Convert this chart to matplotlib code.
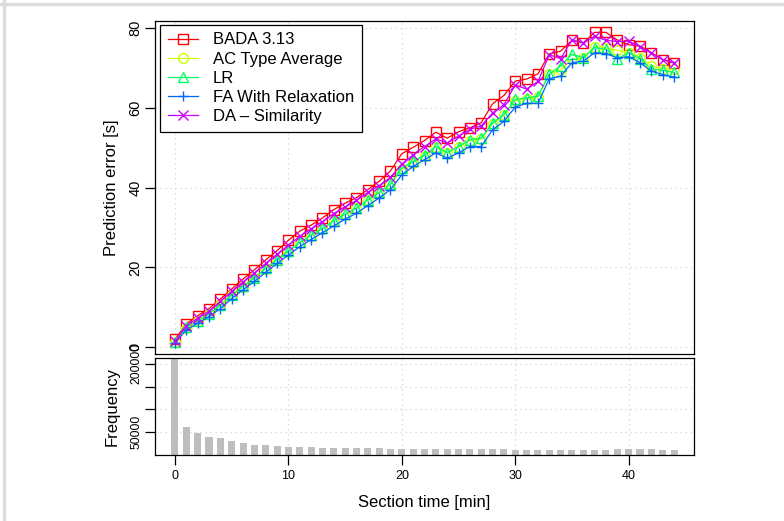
import matplotlib
matplotlib.use("Agg")
import matplotlib.pyplot as plt
from matplotlib.lines import Line2D
import numpy as np

plt.rcParams['font.family'] = ['Liberation Sans', 'DejaVu Sans']

# Section time [min]
minutes = list(range(45))

bada = [2.0, 5.9, 7.9, 9.7, 12.1, 14.6, 17.1, 19.4, 21.9, 24.2, 26.8, 29.1, 30.6, 32.4, 34.5, 36.1,
        37.5, 39.5, 41.6, 44.2, 48.5, 50.1, 51.8, 53.9, 52.4, 54.0, 55.0, 56.3, 61.0, 63.1, 66.7, 67.2,
        68.5, 73.5, 74.2, 76.9, 76.3, 78.9, 78.9, 77.0, 75.8, 75.5, 73.8, 72.1, 71.2]
ac_avg = [1.3, 4.9, 6.6, 8.3, 10.5, 13.0, 15.2, 17.3, 19.7, 21.8, 24.0, 26.2, 28.0, 29.7, 31.6, 33.3,
          34.8, 36.8, 38.7, 40.8, 44.6, 46.3, 48.0, 50.2, 48.7, 50.2, 51.8, 52.2, 56.0, 58.1, 61.8, 62.3,
          62.7, 68.5, 69.5, 72.2, 72.4, 75.3, 75.0, 74.4, 73.8, 72.6, 70.6, 69.8, 69.7]
lr = [1.3, 5.0, 6.7, 8.4, 10.6, 13.1, 15.3, 17.4, 19.8, 21.9, 24.1, 26.3, 28.1, 29.8, 31.7, 33.4,
      34.9, 36.9, 38.8, 40.9, 44.9, 46.6, 48.2, 50.3, 48.8, 50.3, 52.0, 52.4, 56.2, 58.3, 62.1, 62.5,
      62.9, 68.4, 70.5, 73.4, 72.6, 75.1, 74.7, 72.3, 73.8, 72.3, 69.7, 69.4, 68.9]
fa_relax = [1.0, 4.4, 6.0, 7.7, 9.7, 12.2, 14.4, 16.5, 18.8, 21.0, 23.1, 25.2, 27.0, 28.7, 30.4, 32.1,
            33.6, 35.5, 37.4, 39.5, 43.2, 45.3, 47.0, 48.7, 47.4, 48.7, 50.3, 50.3, 54.5, 56.6, 60.2, 61.1,
            61.1, 67.3, 67.9, 71.3, 71.7, 73.8, 73.6, 72.5, 72.8, 71.3, 69.2, 68.3, 67.7]
da_sim = [1.5, 5.4, 7.3, 9.1, 11.5, 14.0, 16.4, 18.6, 21.0, 23.3, 25.6, 27.8, 29.7, 31.5, 33.5, 35.2,
          36.8, 38.8, 40.5, 42.6, 45.9, 48.2, 50.3, 52.2, 51.2, 52.9, 54.6, 55.5, 58.7, 60.8, 65.7, 64.7,
          66.6, 73.3, 72.3, 77.0, 76.2, 77.9, 76.9, 76.6, 76.7, 75.3, 73.7, 72.1, 71.3]

frequency = [260000, 61500, 47700, 38900, 37400, 30100, 26400, 22700, 22000, 19100, 18300, 16900,
             17600, 16100, 16100, 15400, 16100, 15400, 15400, 13900, 13900, 13200, 13200, 13200, 13200,
             13200, 13200, 12500, 12500, 12500, 11700, 11000, 11000, 11000, 11000, 11000, 11000, 11000,
             11700, 12500, 12500, 12500, 12500, 11700, 11000]

series = [
    ("BADA 3.13", bada, "#FF0000", "s"),
    ("AC Type Average", ac_avg, "#CCFF00", "o"),
    ("LR", lr, "#00FF66", "^"),
    ("FA With Relaxation", fa_relax, "#0066FF", "+"),
    ("DA \u2013 Similarity", da_sim, "#CC00FF", "x"),
]

W, H = 784, 521
fig = plt.figure(figsize=(W / 100, H / 100), dpi=100)

# light frame around the picture
fig.add_artist(Line2D([0, 1], [1 - 4 / H, 1 - 4 / H], color="#DCDCDC", lw=2.5))
fig.add_artist(Line2D([4 / W, 4 / W], [0, 1], color="#DCDCDC", lw=2.5))

left, right = 155 / W, 694 / W
ax1 = fig.add_axes([left, 1 - 354.3 / H, right - left, (354.3 - 21) / H])
ax2 = fig.add_axes([left, 1 - 455 / H, right - left, (455 - 358.3) / H])

grid_kw = dict(color="#D3D3D3", linestyle=(0, (1, 3)), linewidth=0.9)

for name, vals, col, mk in series:
    ax1.plot(minutes, vals, color=col, marker=mk, markersize=7, markerfacecolor="none",
             markeredgecolor=col, markeredgewidth=1.0, linewidth=0.9, label=name)

ax1.set_xlim(-1.76, 45.76)
ax1.set_ylim(-1.75, 81.75)
ax1.set_yticks([0, 20, 40, 60, 80])
ax1.set_xticks([0, 10, 20, 30, 40])
ax1.grid(True, **grid_kw)
ax1.set_axisbelow(True)
ax1.tick_params(axis="x", bottom=False, labelbottom=False)
ax1.tick_params(axis="y", length=7, width=0.9, pad=2, labelsize=10.5, labelrotation=90)
for lbl in ax1.get_yticklabels():
    lbl.set_va("center")
ax1.set_ylabel("Prediction error [s]", fontsize=12)
ax1.yaxis.set_label_coords(-0.066, 0.5)

leg = ax1.legend(loc="upper left", bbox_to_anchor=(0.010, 0.988), fontsize=12, frameon=True,
                 fancybox=False, edgecolor="black", framealpha=1, handlelength=1.8,
                 handletextpad=0.9, labelspacing=0.25, borderpad=0.45, borderaxespad=0)
leg.get_frame().set_linewidth(0.9)

ax2.bar(minutes, frequency, width=0.62, color="#BEBEBE", zorder=2)
ax2.set_xlim(-1.76, 45.76)
ax2.set_ylim(0, 212000)
ax2.set_xticks([0, 10, 20, 30, 40])
ax2.set_yticks([50000, 100000, 150000, 200000])
ax2.set_yticklabels(["50000", "", "", "200000"])
ax2.grid(True, **grid_kw)
ax2.set_axisbelow(True)
ax2.tick_params(axis="x", length=7, width=0.9, pad=4, labelsize=9)
ax2.tick_params(axis="y", length=7, width=0.9, pad=2, labelsize=8.7, labelrotation=90)
for lbl in ax2.get_yticklabels():
    lbl.set_va("center")
ax2.set_ylabel("Frequency", fontsize=12)
ax2.yaxis.set_label_coords(-0.066, 0.5)
ax2.set_xlabel("Section time [min]", fontsize=12)
ax2.xaxis.set_label_coords(0.5, -0.41)

for ax in (ax1, ax2):
    for sp in ax.spines.values():
        sp.set_linewidth(0.9)
        sp.set_color("black")

fig.savefig("out.png", dpi=100)
